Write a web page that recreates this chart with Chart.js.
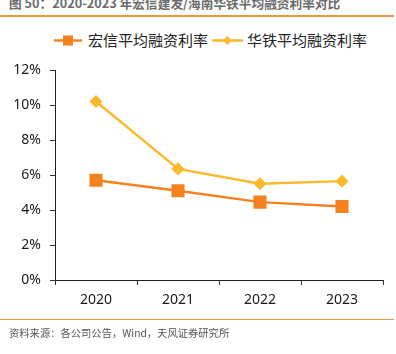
<!DOCTYPE html>
<html><head><meta charset="utf-8">
<script src="https://cdn.jsdelivr.net/npm/chart.js@4/dist/chart.umd.min.js"></script>
<style>
html,body{margin:0;padding:0;background:#fff;}
#wrap{position:relative;width:396px;height:354px;overflow:hidden;background:#fff;font-family:"Noto Sans CJK SC","Noto Sans",sans-serif;}
#title{position:absolute;left:9px;top:-7px;font-size:12.7px;font-weight:bold;color:#6b6b6b;white-space:nowrap;}
.hr{position:absolute;left:0;width:394px;height:1.5px;background:#F0953F;}
#src{position:absolute;left:9px;top:325px;font-size:10.3px;color:#555;white-space:nowrap;}
.leg{position:absolute;top:31px;font-size:15px;color:#222;white-space:nowrap;line-height:18px;}
canvas{position:absolute;left:0;top:0;}
svg{position:absolute;left:0;top:0;}
</style></head>
<body>
<div id="wrap">
<div id="title">图 50：2020-2023 年宏信建发/海南华铁平均融资利率对比</div>
<div class="hr" style="top:15px"></div>
<svg width="396" height="60">
<line x1="54" y1="40.5" x2="82" y2="40.5" stroke="#F5821F" stroke-width="2.5"/>
<rect x="63" y="35.5" width="10" height="10" fill="#F5821F"/>
<line x1="212" y1="40.5" x2="243" y2="40.5" stroke="#FBBA2B" stroke-width="2.5"/>
<polygon points="227.5,36 232,40.5 227.5,45 223,40.5" fill="#FBBA2B"/>
</svg>
<div class="leg" id="leg1" style="left:88px"></div>
<div class="leg" id="leg2" style="left:247px"></div>
<canvas id="c" width="396" height="354"></canvas>
<div class="hr" style="top:318.5px"></div>
<div id="src">资料来源：各公司公告，Wind，天风证券研究所</div>
</div>
<script>
const categories = ['2020','2021','2022','2023'];
const seriesNames = ['宏信平均融资利率','华铁平均融资利率'];
const hongxin = [5.7, 5.1, 4.45, 4.2];
const huatie = [10.2, 6.35, 5.5, 5.65];
const yTicks = [0,2,4,6,8,10,12];

document.getElementById('leg1').textContent = seriesNames[0];
document.getElementById('leg2').textContent = seriesNames[1];

const tickFont = {family:'"Noto Sans", "Noto Sans CJK SC", sans-serif', size:14};
new Chart(document.getElementById('c'), {
  type:'line',
  data:{
    labels:categories,
    datasets:[
      {label:seriesNames[0], data:hongxin, borderColor:'#F5821F', backgroundColor:'#F5821F',
       borderWidth:2.5, pointStyle:'rect', pointRadius:7.5, pointHoverRadius:7.5, tension:0},
      {label:seriesNames[1], data:huatie, borderColor:'#FBBA2B', backgroundColor:'#FBBA2B',
       borderWidth:2.5, pointStyle:'rectRot', pointRadius:4.8, pointHoverRadius:4.8, tension:0}
    ]
  },
  options:{
    responsive:false, animation:false,
    layout:{padding:{left:0, top:70, right:13, bottom:0}},
    plugins:{legend:{display:false}, tooltip:{enabled:false}},
    scales:{
      x:{
        offset:true,
        grid:{display:true, drawOnChartArea:false, drawTicks:true, tickLength:5, color:'#333', offset:true},
        border:{display:true, color:'#222', width:1},
        ticks:{font:tickFont, color:'#1a1a1a', padding:7},
        afterFit(s){ s.height = 74; }
      },
      y:{
        min:0, max:12,
        afterBuildTicks(s){ s.ticks = yTicks.map(v=>({value:v})); },
        grid:{display:true, drawOnChartArea:false, drawTicks:true, tickLength:5, color:'#333'},
        border:{display:true, color:'#222', width:1},
        ticks:{font:tickFont, color:'#1a1a1a', padding:9, callback:v=>v+'%'},
        afterFit(s){ s.width = 55; }
      }
    }
  }
});
</script>
</body></html>
